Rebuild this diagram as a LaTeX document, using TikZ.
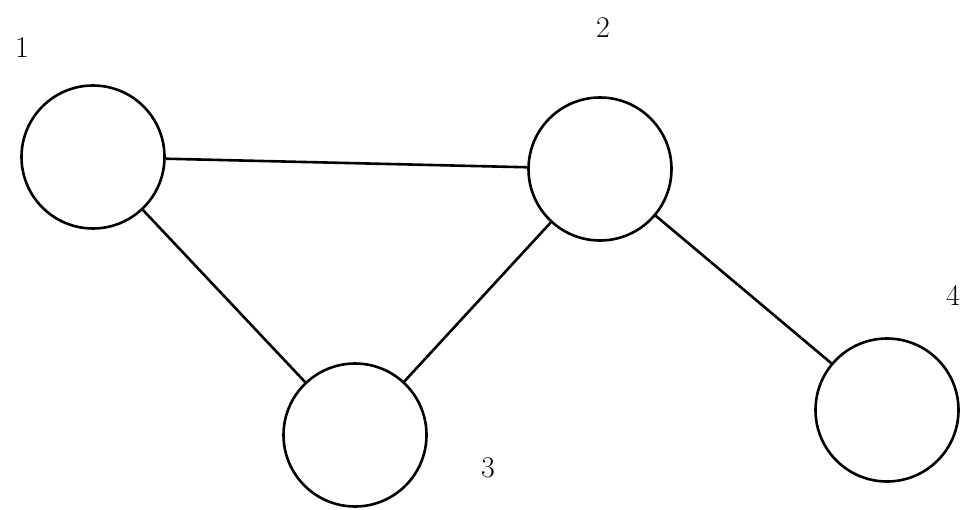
\documentclass[tikz,border=0pt]{standalone}
\begin{document}
\begin{tikzpicture}[x=1pt,y=-1pt,
  vertex/.style={circle,draw,line width=2.6pt,minimum size=143pt,inner sep=0pt},
  lab/.style={font=\fontsize{30}{36}\selectfont},
  edge/.style={line width=2.6pt}]
\useasboundingbox (0,0) rectangle (963,510);
\fill[white] (0,0) rectangle (963,510);
\node[vertex] (n1) at (93,157) {};
\node[vertex] (n2) at (600,169) {};
\node[vertex] (n3) at (355,435) {};
\node[vertex] (n4) at (887,410) {};
\node[lab] (l1) at (22,48) {1};
\node[lab] (l2) at (603,28) {2};
\node[lab] (l3) at (488,468) {3};
\node[lab] (l4) at (953,295) {4};
\draw[edge] (n1) -- (n2);
\draw[edge] (n1) -- (n3);
\draw[edge] (n2) -- (n3);
\draw[edge] (n2) -- (n4);
\end{tikzpicture}
\end{document}
